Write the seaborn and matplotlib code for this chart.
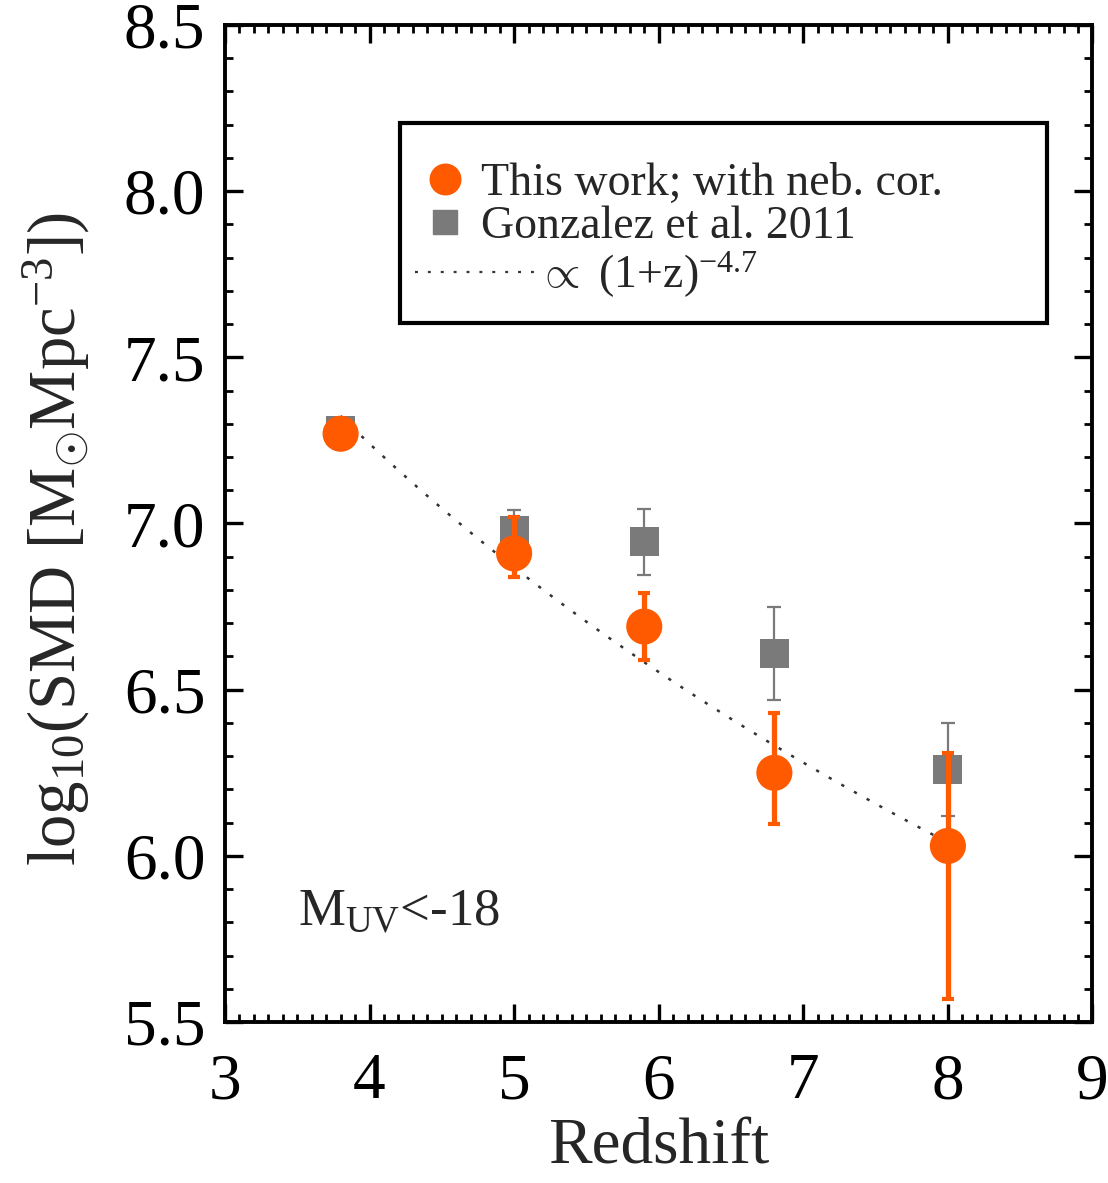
import numpy as np
import pandas as pd
import matplotlib
matplotlib.use("Agg")
import matplotlib.pyplot as plt
from matplotlib.ticker import MultipleLocator
from matplotlib.lines import Line2D
from matplotlib.patches import Rectangle
from matplotlib.legend_handler import HandlerLine2D
import seaborn as sns

# ---- data ----
z_this = [3.8, 5.0, 5.9, 6.8, 8.0]
smd_this = [7.27, 6.91, 6.69, 6.25, 6.03]
err_lo_this = [0.03, 0.07, 0.10, 0.155, 0.46]
err_hi_this = [0.03, 0.11, 0.10, 0.18, 0.28]

z_gonz = [3.8, 5.0, 5.9, 6.8, 8.0]
smd_gonz = [7.28, 6.98, 6.945, 6.61, 6.26]
err_gonz = [0.03, 0.06, 0.10, 0.14, 0.14]

# power-law model line  SMD ∝ (1+z)^-4.7, normalised at z=4
slope_exp = -4.7
norm_z, norm_val = 4.0, 7.24
z_line = np.linspace(3.8, 8.0, 60)
smd_line = norm_val + slope_exp * np.log10((1 + z_line) / (1 + norm_z))

x_ticks = [3, 4, 5, 6, 7, 8, 9]
y_ticks = [5.5, 6.0, 6.5, 7.0, 7.5, 8.0, 8.5]

legend_labels = ["This work; with neb. cor.", "Gonzalez et al. 2011",
                 r"     $\propto$ (1+z)$^{-4.7}$"]

ORANGE = "#FF5A00"
GRAY = "#7a7a7a"
DOT = (0, (1.3, 4.5))

sns.set_theme(style="ticks")
plt.rcParams["font.family"] = ["Liberation Serif", "DejaVu Serif"]
plt.rcParams["mathtext.fontset"] = "custom"
plt.rcParams["mathtext.rm"] = "Liberation Serif"
plt.rcParams["mathtext.it"] = "Liberation Serif:italic"
plt.rcParams["mathtext.bf"] = "Liberation Serif:bold"

fig = plt.figure(figsize=(11.08, 11.83), dpi=100)
ax = fig.add_axes([0.203, 0.136, 0.783, 0.843])

df_line = pd.DataFrame({"z": z_line, "smd": smd_line})
sns.lineplot(data=df_line, x="z", y="smd", ax=ax, color="#333333",
             linestyle=DOT, linewidth=1.8, zorder=2)

# Gonzalez et al. 2011
ax.errorbar(z_gonz, smd_gonz, yerr=err_gonz, fmt="none", ecolor=GRAY,
            elinewidth=1.6, capsize=5, capthick=1.6, zorder=3)
df_g = pd.DataFrame({"z": z_gonz, "smd": smd_gonz})
sns.scatterplot(data=df_g, x="z", y="smd", ax=ax, marker="s", s=21 ** 2,
                color=GRAY, edgecolor="none", zorder=4)

# This work
ax.errorbar(z_this, smd_this, yerr=[err_lo_this, err_hi_this], fmt="none",
            ecolor=ORANGE, elinewidth=3.8, capsize=4, capthick=3.0, zorder=5)
df_t = pd.DataFrame({"z": z_this, "smd": smd_this})
sns.scatterplot(data=df_t, x="z", y="smd", ax=ax, marker="o", s=26 ** 2,
                color=ORANGE, edgecolor="none", zorder=6)

ax.set_xlim(3, 9)
ax.set_ylim(5.5, 8.5)
ax.set_xticks(x_ticks)
ax.set_yticks(y_ticks)
ax.set_xticklabels([str(v) for v in x_ticks])
ax.set_yticklabels([f"{v:.1f}" for v in y_ticks])
ax.xaxis.set_minor_locator(MultipleLocator(0.1))
ax.yaxis.set_minor_locator(MultipleLocator(0.1))
ax.tick_params(which="both", direction="in", top=True, right=True,
               colors="black", labelsize=47)
ax.tick_params(axis="x", which="major", length=13, width=2.4, pad=22)
ax.tick_params(axis="y", which="major", length=13, width=2.4, pad=14)
ax.tick_params(which="minor", length=6, width=2.0)
for sp in ax.spines.values():
    sp.set_linewidth(2.8)
    sp.set_color("black")

ax.set_xlabel("Redshift", fontsize=47)
ax.xaxis.set_label_coords(0.5, -0.096)
ax.set_ylabel(r"log$_{10}$(SMD [M$_{\odot}$Mpc$^{-3}$])", fontsize=48)
ax.yaxis.set_label_coords(-0.153, 0.485)

ax.text(0.084, 0.097, r"M$_{\rm UV}$<-18", transform=ax.transAxes,
        fontsize=38, ha="left", va="baseline")

# legend frame
ax.add_patch(Rectangle((0.2016, 0.7011), 0.948 - 0.2016, 0.9017 - 0.7011,
                       transform=ax.transAxes, facecolor="white",
                       edgecolor="black", linewidth=3, zorder=7))


class LongLineHandler(HandlerLine2D):
    def create_artists(self, legend, orig_handle, xdescent, ydescent,
                       width, height, fontsize, trans):
        y = height / 2 - ydescent
        ln = Line2D([-xdescent - 5, -xdescent + width + 50], [y, y],
                    color="#333333", linestyle=DOT, linewidth=1.6)
        ln.set_transform(trans)
        return [ln]


handles = [
    Line2D([], [], marker="o", color=ORANGE, linestyle="none", markersize=22),
    Line2D([], [], marker="s", color=GRAY, linestyle="none", markersize=17),
    Line2D([], [], color="#333333", linestyle=DOT, linewidth=1.6),
]
leg = ax.legend(handles, legend_labels, loc="upper left",
                bbox_to_anchor=(0.227, 0.862), fontsize=33, frameon=False,
                borderpad=0, handlelength=1.0, handletextpad=0.3,
                labelspacing=0.02, borderaxespad=0,
                handler_map={handles[2]: LongLineHandler()})
leg.set_zorder(8)

fig.savefig("out.png", dpi=100)
